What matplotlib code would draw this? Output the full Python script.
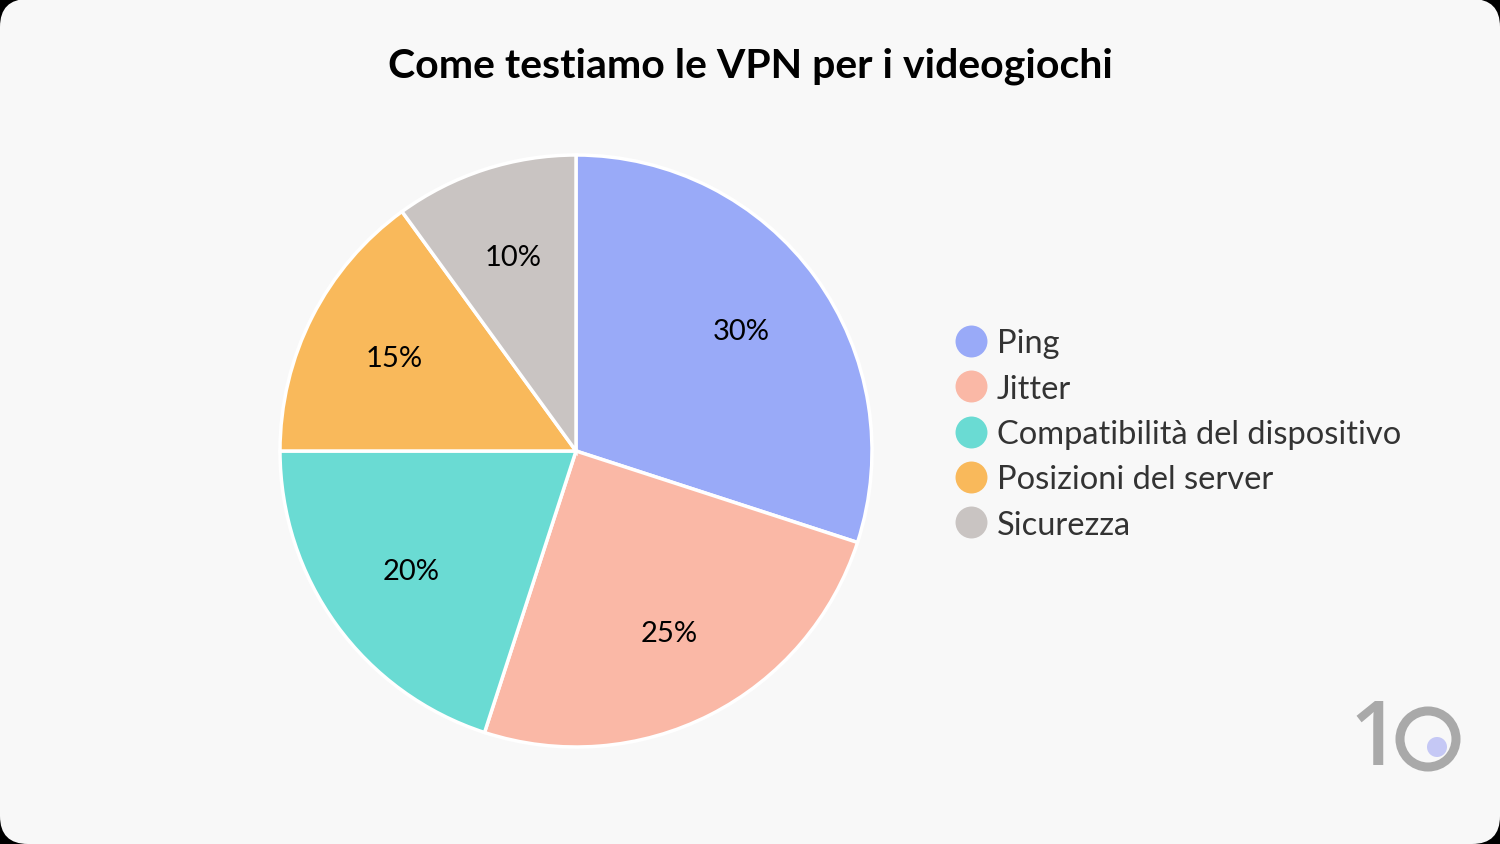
import matplotlib
matplotlib.use("Agg")
import matplotlib.pyplot as plt
from matplotlib.patches import FancyBboxPatch, Circle
from matplotlib.lines import Line2D

title = "Come testiamo le VPN per i videogiochi"
categories = ["Ping", "Jitter", "Compatibilità del dispositivo", "Posizioni del server", "Sicurezza"]
values = [30, 25, 20, 15, 10]
colors = ["#99aaf8", "#fab8a6", "#6adbd3", "#f9b95b", "#c9c4c2"]

W, H = 1500, 845
fig = plt.figure(figsize=(W / 100, H / 100), dpi=100)
fig.patch.set_facecolor("black")

# background panel
bg = fig.add_axes([0, 0, 1, 1])
bg.set_xlim(0, W)
bg.set_ylim(H, 0)
bg.axis("off")
bg.add_patch(FancyBboxPatch((0, 0), W, H, boxstyle="round,pad=0,rounding_size=28",
                            facecolor="#f8f8f8", edgecolor="none"))

font = "Lato"
bg.text(750, 66, title, ha="center", va="center", fontsize=29.5, fontweight="bold",
        family=font, color="black")

# pie
cx, cy, r = 576, 452, 296
ax = fig.add_axes([(cx - r) / W, (H - cy - r) / H, 2 * r / W, 2 * r / H])
wedges, texts, autotexts = ax.pie(values, colors=colors, startangle=90, counterclock=False,
                                  autopct="%d%%", pctdistance=0.69,
                                  wedgeprops=dict(edgecolor="white", linewidth=2.5),
                                  textprops=dict(fontsize=21, family=font, color="black"))
ax.set_xlim(-1.0, 1.0)
ax.set_ylim(-1.0, 1.0)
ax.set_aspect("equal")
ax.axis("off")

# legend
handles = [Line2D([0], [0], marker="o", linestyle="none", markersize=23,
                  markerfacecolor=c, markeredgecolor="none") for c in colors]
leg = fig.legend(handles, categories, loc="center left", bbox_to_anchor=(938 / W, 1 - 435 / H),
                 frameon=False, prop=dict(family=font, size=23.5), labelcolor="#333333",
                 handletextpad=0.3, labelspacing=0.47, handlelength=1.0, borderpad=0)

# logo
bg.text(1374, 742, "1", ha="center", va="center", fontsize=63, color="#a9a9a9",
        family="Open Sans", fontweight="semibold")
bg.add_patch(Circle((1428, 740), 28, facecolor="none", edgecolor="#a9a9a9", linewidth=6.5))
bg.add_patch(Circle((1437, 748), 10, facecolor="#c5c8f5", edgecolor="none"))

fig.savefig("out.png", dpi=100, facecolor=fig.get_facecolor())
